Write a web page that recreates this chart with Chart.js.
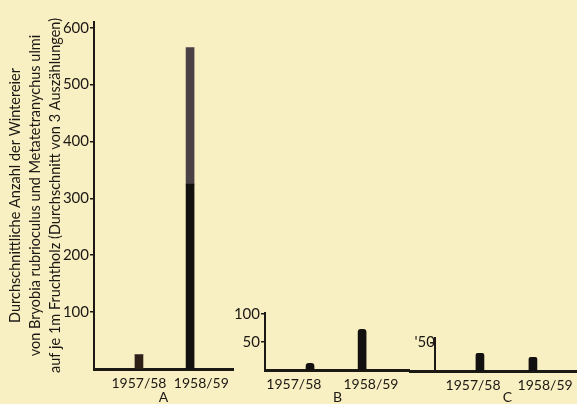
<!DOCTYPE html>
<html>
<head>
<meta charset="utf-8">
<script src="https://cdn.jsdelivr.net/npm/chart.js@4.4.1/dist/chart.umd.min.js"></script>
<style>
  html, body { margin: 0; padding: 0; background: #f8efc2; }
  #wrap { position: relative; width: 577px; height: 404px; overflow: hidden; background: #f8efc2; }
  canvas { position: absolute; top: 0; }
</style>
</head>
<body>
<div id="wrap">
  <canvas id="panelA" width="240" height="404" style="left:0"></canvas>
  <canvas id="panelB" width="210" height="404" style="left:200px"></canvas>
  <!-- C runs past the right edge of the page, as the printed baseline does -->
  <canvas id="panelC" width="225" height="404" style="left:380px"></canvas>
</div>
<script>
const seasons = ['1957/58', '1958/59'];

// A: eggs per 1 m fruit wood, bar 1958/59 drawn in a black lower and a grey upper part
const aLower = [25, 325];
const aUpper = [0, 240];
const aTickValues = [100, 200, 300, 400, 500, 600];
const aTickLabels = ['100', '200', '300', '400', '500', '600'];

// B and C share the 0-100 scale
const bValues = [12, 73];
const bTickValues = [50, 100];
const bTickLabels = ['50', '100'];

const cValues = [31, 24];
const cTickValues = [50];
const cTickLabels = ["'50"];

const yTitle = [
    'Durchschnittliche Anzahl der Wintereier',
    'von Bryobia rubrioculus und Metatetranychus ulmi',
    'auf je 1m Fruchtholz (Durchschnitt von 3 Auszählungen)'
];

const ink = '#1c1814';
const fontFamily = 'Lato, "DejaVu Sans", sans-serif';

const toPoints = (arr) => arr.map((v, i) => ({ x: i, y: v }));

function makePanel(id, o) {
    new Chart(document.getElementById(id), {
        type: 'bar',
        data: { datasets: o.datasets },
        options: {
            responsive: false,
            animation: false,
            devicePixelRatio: 1,
            layout: { padding: { top: o.top, right: o.right, left: o.left || 0, bottom: 0 } },
            plugins: { legend: { display: false }, tooltip: { enabled: false } },
            scales: {
                x: {
                    type: 'linear',
                    offset: false,
                    min: o.xMin,
                    max: o.xMax,
                    stacked: true,
                    // the printed year labels sit a little beside their bars
                    afterBuildTicks: (s) => { s.ticks = seasons.map((_, i) => ({ value: i + o.labelShift[i] })); },
                    afterFit: (s) => { s.height = o.xHeight; },
                    grid: { display: false, drawTicks: false },
                    border: { display: true, color: ink, width: 3 },
                    ticks: {
                        autoSkip: false,
                        maxRotation: 0,
                        padding: 6,
                        color: ink,
                        font: { family: fontFamily, size: 14 },
                        callback: (v, i) => seasons[i]
                    },
                    title: {
                        display: true,
                        text: o.letter,
                        color: ink,
                        padding: 0,
                        font: { family: fontFamily, size: 14, lineHeight: 1 }
                    }
                },
                y: {
                    position: o.yPosition || 'left',
                    min: 0,
                    max: o.yMax,
                    stacked: true,
                    afterBuildTicks: (s) => { s.ticks = o.tickValues.map((v) => ({ value: v })); },
                    afterFit: (s) => { s.width = o.yWidth; },
                    grid: { drawOnChartArea: false, drawTicks: true, tickLength: 4, color: ink, lineWidth: 1.5 },
                    border: { color: ink, width: 2 },
                    ticks: {
                        padding: 1,
                        color: ink,
                        font: { family: fontFamily, size: 15 },
                        callback: (v, i) => o.tickLabels[i]
                    },
                    title: o.yTitle ? {
                        display: true,
                        text: o.yTitle,
                        color: ink,
                        padding: { top: 5, bottom: 0 },
                        font: { family: fontFamily, size: 14.5, lineHeight: 1.4 }
                    } : { display: false }
                }
            }
        }
    });
}

// axis line of A reaches a little above the 600 mark
makePanel('panelA', {
    top: 22, right: 7, xHeight: 35, yWidth: 94,
    xMin: -0.88, xMax: 1.84, yMax: 610, labelShift: [0, 0.22], letter: 'A',
    tickValues: aTickValues, tickLabels: aTickLabels, yTitle: yTitle,
    datasets: [
        { data: toPoints(aLower), backgroundColor: ['#2e1f17', '#121110'], barThickness: 8 },
        { data: toPoints(aUpper), backgroundColor: '#4a4146', barThickness: 8 }
    ]
});

makePanel('panelB', {
    top: 313, right: 0, xHeight: 34, yWidth: 65,
    xMin: -0.865, xMax: 1.92, yMax: 102, labelShift: [-0.31, 0.17], letter: 'B',
    tickValues: bTickValues, tickLabels: bTickLabels,
    datasets: [
        { data: toPoints(bValues), backgroundColor: '#121110', barThickness: 8,
          borderRadius: { topLeft: 3, topRight: 3 }, borderSkipped: 'bottom' }
    ]
});

// C's axis stands a little inside its baseline, which starts where B's ends
makePanel('panelC', {
    top: 338, right: 0, left: 30, xHeight: 33, yWidth: 55,
    xMin: -1.32, xMax: 2.36, yMax: 58, labelShift: [-0.13, 0.23], letter: 'C',
    yPosition: { x: -0.85 },
    tickValues: cTickValues, tickLabels: cTickLabels,
    datasets: [
        { data: toPoints(cValues), backgroundColor: '#121110', barThickness: 8,
          borderRadius: { topLeft: 2, topRight: 2 }, borderSkipped: 'bottom' }
    ]
});
</script>
</body>
</html>
